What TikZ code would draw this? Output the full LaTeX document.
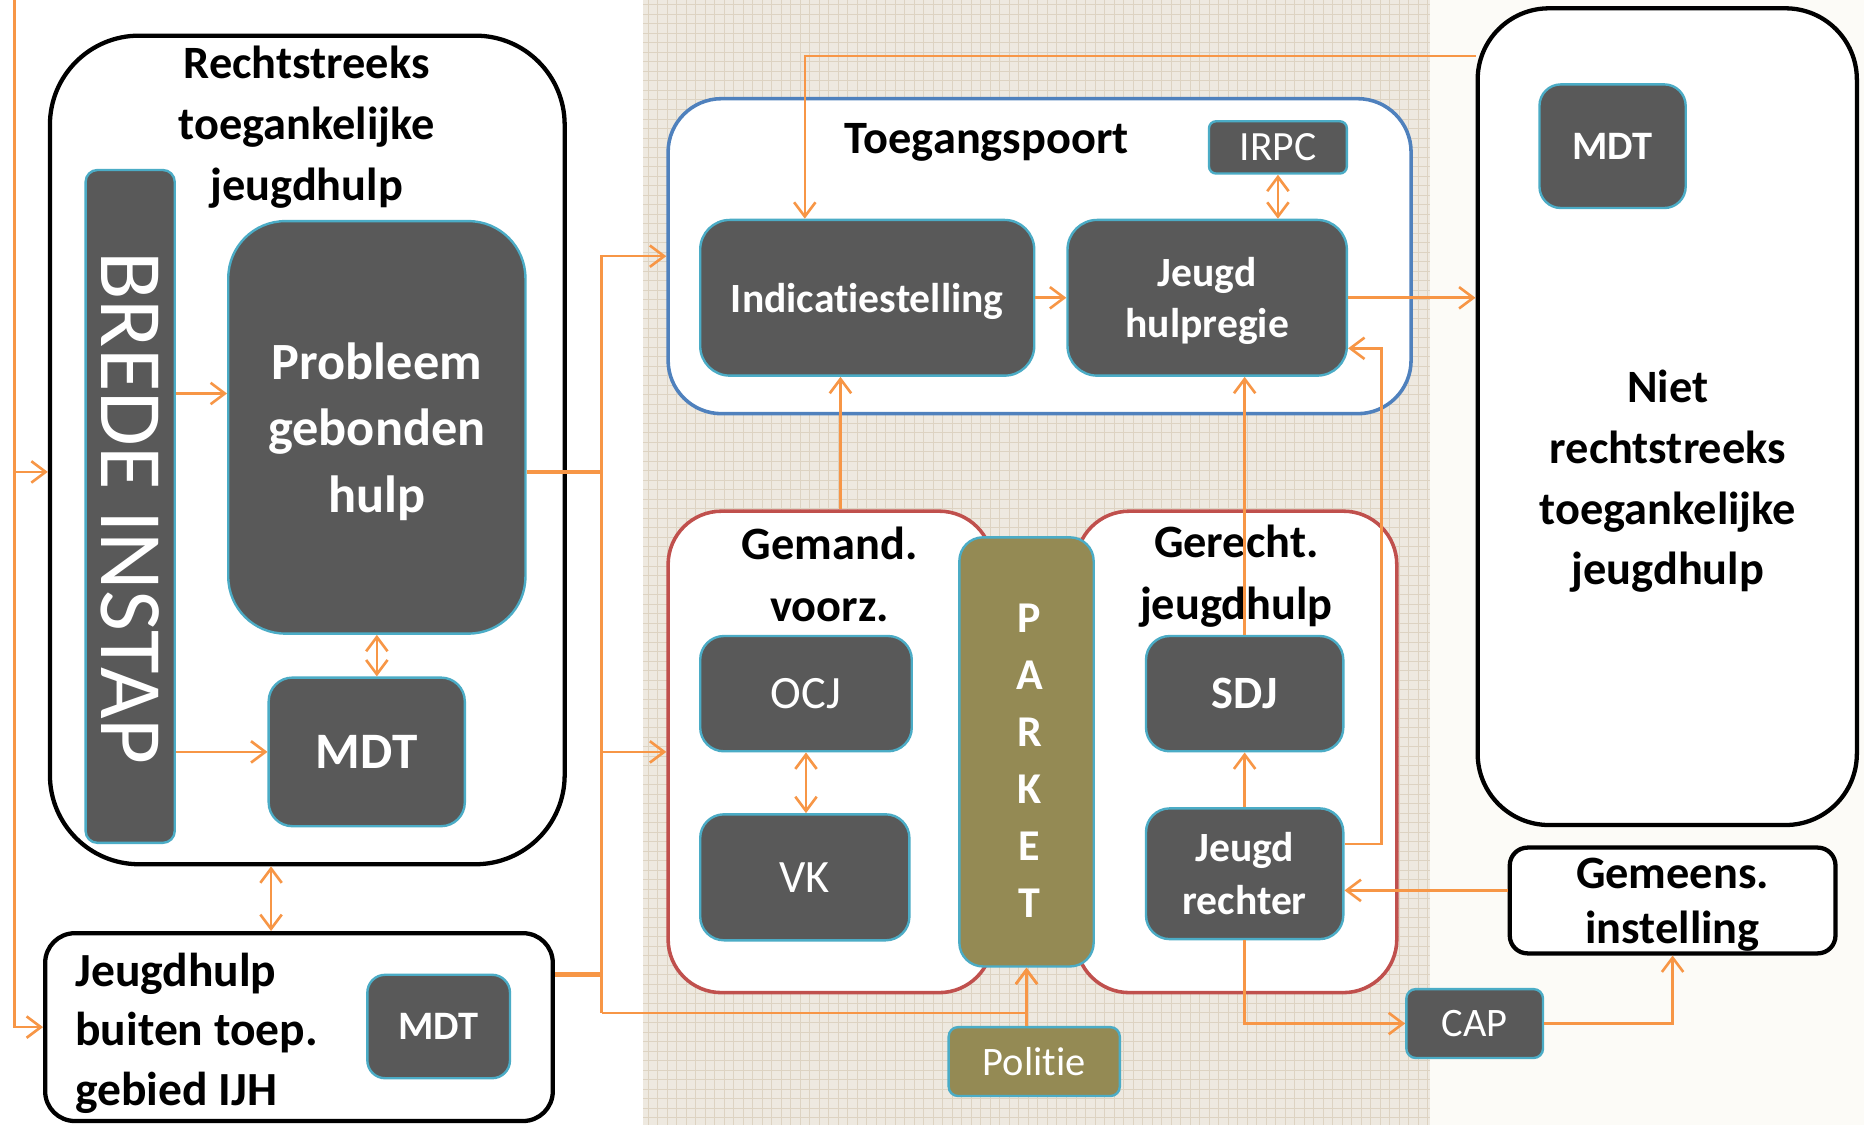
\documentclass[tikz,border=0pt]{standalone}
\usepackage{fontspec}
\setmainfont{Carlito}[Ligatures=NoCommon]
\usetikzlibrary{arrows.meta}
\definecolor{og}{HTML}{F79646}
\definecolor{dg}{HTML}{595959}
\definecolor{tl}{HTML}{4BACC6}
\definecolor{bl}{HTML}{4F81BD}
\definecolor{rd}{HTML}{C0504D}
\definecolor{ol}{HTML}{948A54}
\definecolor{bgc}{HTML}{EEE9E0}
\definecolor{glc}{HTML}{DDD3C2}
\definecolor{crc}{HTML}{FCFBF7}
\newcommand\myfs[2]{\fontsize{#1}{#2}\selectfont}
\begin{document}
\begin{tikzpicture}[x=0.5pt,y=-0.5pt,
  dark/.style={draw=tl, line width=1pt, fill=dg, text=white, inner sep=0pt, rounded corners=10pt, align=center},
  olive/.style={dark, fill=ol},
  container/.style={draw=black, line width=1.8pt, fill=white, inner sep=0pt},
  bluebox/.style={draw=bl, line width=1.5pt, fill=white, inner sep=0pt, rounded corners=22.5pt},
  redbox/.style={draw=rd, line width=1.5pt, fill=white, inner sep=0pt, rounded corners=22.5pt},
  title/.style={text=black, align=center, inner sep=0pt},
  tip/.tip={Straight Barb[length=6pt,width=9pt]},
  orl/.style={draw=og, line width=1.1pt},
  thickl/.style={draw=og, line width=2pt},
  arr/.style={orl, -tip},
  darr/.style={orl, tip-tip}
]
\useasboundingbox (0,0) rectangle (1568,946);
% background
\fill[white] (0,0) rectangle (541,946);
\fill[bgc] (541,0) rectangle (1203,946);
\foreach \gx in {545,553,...,1201} \draw[glc, line width=0.3pt] (\gx,0) -- (\gx,946);
\foreach \gy in {4,12,...,946} \draw[glc, line width=0.3pt] (541,\gy) -- (1203,\gy);
\fill[crc] (1203,0) rectangle (1568,946);

% left containers
\node[container, rounded corners=37.5pt, minimum width=216.5pt, minimum height=348.5pt] (rtj) at (258.5,378.5) {};
\node[title, font=\bfseries\myfs{19.5}{25.5}] (rtjt) at (258,107) {Rechtstreeks\\toegankelijke\\jeugdhulp};
\node[dark, rounded corners=5pt, minimum width=37.5pt, minimum height=283pt] (brede) at (109.5,426) {};
\node[rotate=-90, text=white, inner sep=0pt, font=\myfs{37.5}{40}] (bredet) at (109.5,427.5) {BREDE INSTAP};
\node[dark, rounded corners=24pt, minimum width=125pt, minimum height=173.5pt, text depth=0pt, font=\bfseries\myfs{22}{28}] (prob) at (317,359.5) {Probleem\\gebonden\\hulp};
\node[dark, minimum width=82.5pt, minimum height=62.5pt, font=\bfseries\myfs{21.5}{25}] (mdt1) at (308.5,632.5) {MDT};

\node[container, rounded corners=12.5pt, minimum width=213.5pt, minimum height=79pt] (jbt) at (251.5,864) {};
\node[title, anchor=west, align=left, font=\bfseries\myfs{20}{25}] (jbtt) at (63,869) {Jeugdhulp\\buiten toep.\\gebied IJH};
\node[dark, rounded corners=7.5pt, minimum width=60pt, minimum height=43.5pt, font=\bfseries\myfs{17}{20}] (mdt2) at (369,863.5) {MDT};

% Toegangspoort
\node[bluebox, minimum width=312.5pt, minimum height=132.5pt] (tp) at (874.5,215.5) {};
\node[title, font=\bfseries\myfs{19.5}{24}] (tpt) at (830,120) {Toegangspoort};
\node[dark, rounded corners=3pt, minimum width=58pt, minimum height=22pt, font=\myfs{17.5}{20}] (irpc) at (1075,124) {IRPC};
\node[dark, rounded corners=12.5pt, minimum width=140.5pt, minimum height=65.5pt, text depth=0pt, font=\bfseries\myfs{17.5}{21}] (indic) at (729.5,250.5) {Indicatiestelling};
\node[dark, rounded corners=12.5pt, minimum width=117.5pt, minimum height=65.5pt, text depth=0pt, font=\bfseries\myfs{17.5}{21.5}] (jhr) at (1015.5,250.5) {Jeugd\\hulpregie};

% Gemand / Gerecht
\node[redbox, minimum width=136.5pt, minimum height=202.5pt] (gv) at (698.5,632.5) {};
\node[redbox, minimum width=135pt, minimum height=202.5pt] (gj) at (1040,632.5) {};
\node[title, font=\bfseries\myfs{19.5}{26}] (gvt) at (698,483.5) {Gemand.\\voorz.};
\node[title, font=\bfseries\myfs{19.5}{26}] (gjt) at (1040,485) {Gerecht.\\jeugdhulp};
\node[dark, minimum width=89pt, minimum height=48.5pt, font=\myfs{19.5}{23}] (ocj) at (678,583.5) {OCJ};
\node[dark, minimum width=88pt, minimum height=53pt, font=\myfs{19.5}{23}] (vk) at (677,738) {VK};
\node[olive, minimum width=56.5pt, minimum height=180.5pt] (parket) at (863.5,632.5) {};
\node[title, text=white, font=\bfseries\myfs{18.5}{24}] (parkett) at (866,640) {P\\A\\R\\K\\E\\T};
\node[dark, minimum width=83pt, minimum height=48.5pt, font=\bfseries\myfs{19.5}{23}] (sdj) at (1047,583.5) {SDJ};
\node[dark, minimum width=83pt, minimum height=55pt, font=\bfseries\myfs{17.5}{22.5}] (jr) at (1047,735) {Jeugd\\rechter};
\node[olive, rounded corners=4pt, minimum width=72pt, minimum height=29pt, font=\myfs{17}{20}] (politie) at (870,893) {Politie};

% right
\node[container, rounded corners=30pt, minimum width=159.5pt, minimum height=343.5pt] (niet) at (1402.5,350.5) {};
\node[title, font=\bfseries\myfs{19.5}{25.5}] (niett) at (1403,405) {Niet\\rechtstreeks\\toegankelijke\\jeugdhulp};
\node[dark, rounded corners=9pt, minimum width=61.5pt, minimum height=52pt, font=\bfseries\myfs{17}{20}] (mdt3) at (1356.5,123) {MDT};
\node[container, rounded corners=7.5pt, minimum width=137pt, minimum height=44.5pt] (gemeens) at (1407,757.5) {};
\node[title, font=\bfseries\myfs{19.5}{23.5}] (gemeenst) at (1407,761) {Gemeens.\\instelling};
\node[dark, rounded corners=4pt, minimum width=57.5pt, minimum height=29pt, font=\myfs{17}{20}] (cap) at (1240.5,861) {CAP};

% connectors
\coordinate (ltop) at (12,0);
\coordinate (lbr) at (12,397);
\draw[arr] (ltop) |- (jbt.west);
\draw[arr] (lbr) -- (lbr -| rtj.west);
\coordinate (b1) at (147,331);
\draw[arr] (b1 -| brede.east) -- (b1 -| prob.west);
\draw[arr] (brede.east |- mdt1.west) -- (mdt1.west);
\draw[darr] (prob.south) -- (prob.south |- mdt1.north);
\coordinate (dv) at (228,0);
\draw[darr] (rtj.south -| dv) -- (jbt.north -| dv);
\coordinate (bus) at (506,397);
\coordinate (bus2) at (506,820);
\coordinate (bus3) at (506,852);
\draw[thickl] (prob.east |- bus) -- (bus);
\draw[thickl] (jbt.east |- bus2) -- (bus2);
\draw[arr] (bus) |- (tp.west);
\draw[arr] (bus) |- (gv.west);
\draw[orl] (bus) -- (bus3);
\draw[arr] (bus3) -| (parket.south);
\draw[arr] (politie.north -| parket.south) -- (parket.south);
\coordinate (tl) at (677,47);
\draw[arr] (tl -| niet.west) -- (tl) -- (tl |- indic.north);
\draw[arr] (indic.east) -- (jhr.west);
\draw[darr] (irpc.south) -- (irpc.south |- jhr.north);
\draw[arr] (jhr.east) -- (jhr.east -| niet.west);
\coordinate (g1) at (707,0);
\draw[arr] (gv.north -| g1) -- (indic.south -| g1);
\draw[arr] (sdj.north) -- (sdj.north |- jhr.south);
\coordinate (rb) at (1162,710);
\coordinate (rt) at (1162,293);
\draw[arr] (jr.east |- rb) -- (rb) -- (rt) -- (rt -| jhr.east);
\draw[darr] (ocj.south) -- (ocj.south |- vk.north);
\draw[arr] (jr.north) -- (sdj.south);
\draw[arr] (jr.south) |- (cap.west);
\draw[arr] (cap.east) -| (gemeens.south);
\coordinate (gm) at (1270,749);
\draw[arr] (gemeens.west |- gm) -- (jr.east |- gm);
\end{tikzpicture}
\end{document}
